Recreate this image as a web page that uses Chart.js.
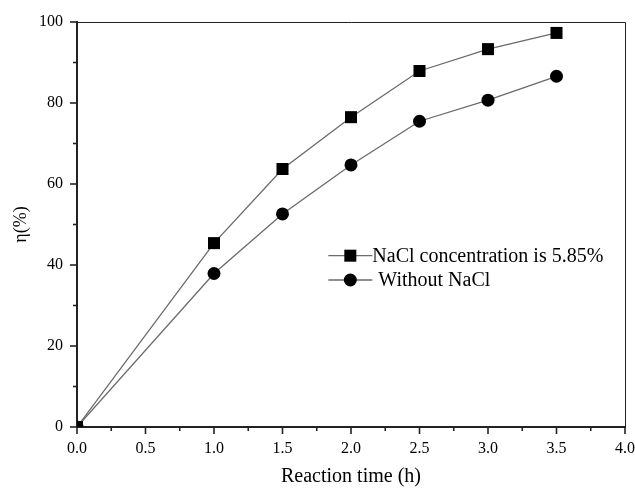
<!DOCTYPE html>
<html>
<head>
<meta charset="utf-8">
<script src="https://cdn.jsdelivr.net/npm/chart.js@4.4.1/dist/chart.umd.min.js"></script>
<style>
  html, body { margin: 0; padding: 0; background: #ffffff; }
  #wrap { width: 635px; height: 489px; position: relative; }
</style>
</head>
<body>
<div id="wrap"><canvas id="c" width="635" height="489"></canvas></div>
<script>
// ---- data ----
const reactionTime = [0, 1.0, 1.5, 2.0, 2.5, 3.0, 3.5];
const withNaCl     = [0, 45.4, 63.7, 76.5, 87.9, 93.3, 97.3];
const withoutNaCl  = [0, 37.9, 52.6, 64.7, 75.5, 80.7, 86.6];
const seriesLabels = ['NaCl concentration is 5.85%', 'Without NaCl'];
const xTitle = 'Reaction time (h)';
const yTitle = 'η(%)';

const serif = '"Liberation Serif", "Times New Roman", serif';
const toPts = (xs, ys) => xs.map((x, i) => ({ x: x, y: ys[i] }));

const isMajorX = v => Math.abs(v * 2 - Math.round(v * 2)) < 1e-9;
const isMajorY = v => Math.abs(v / 20 - Math.round(v / 20)) < 1e-9;

const framePlugin = {
  id: 'frameTicks',
  afterDatasetsDraw(chart) {
    const ctx = chart.ctx;
    const a = chart.chartArea;
    ctx.save();
    // top and right thin frame
    ctx.strokeStyle = '#222';
    ctx.lineWidth = 1;
    ctx.beginPath();
    ctx.moveTo(a.left, a.top + 0.5);
    ctx.lineTo(a.right + 0.5, a.top + 0.5);
    ctx.lineTo(a.right + 0.5, a.bottom);
    ctx.stroke();
    // tick marks (major longer, minor shorter)
    ctx.lineWidth = 1.6;
    const xs = chart.scales.x, ys = chart.scales.y;
    xs.ticks.forEach(t => {
      const p = xs.getPixelForValue(t.value);
      const len = isMajorX(t.value) ? 7 : 4;
      ctx.beginPath();
      ctx.moveTo(p, a.bottom);
      ctx.lineTo(p, a.bottom + len);
      ctx.stroke();
    });
    ys.ticks.forEach(t => {
      const p = ys.getPixelForValue(t.value);
      const len = isMajorY(t.value) ? 7 : 4;
      ctx.beginPath();
      ctx.moveTo(a.left, p);
      ctx.lineTo(a.left - len, p);
      ctx.stroke();
    });
    // legend inside plot
    const lx = xs.getPixelForValue(1.995);
    const rowY = [ys.getPixelForValue(42.3), ys.getPixelForValue(36.3)];
    const textDx = [22, 28];
    chart.data.datasets.forEach((ds, i) => {
      const y = rowY[i];
      ctx.strokeStyle = ds.borderColor;
      ctx.lineWidth = ds.borderWidth;
      ctx.beginPath();
      ctx.moveTo(lx - 22, y);
      ctx.lineTo(lx + 22, y);
      ctx.stroke();
      ctx.fillStyle = '#000';
      if (ds.pointStyle === 'rect') {
        const s = 6;
        ctx.fillRect(lx - s, y - s, 2 * s, 2 * s);
      } else {
        ctx.beginPath();
        ctx.arc(lx, y, 6.5, 0, Math.PI * 2);
        ctx.fill();
      }
      ctx.font = '20px ' + serif;
      ctx.textBaseline = 'middle';
      ctx.textAlign = 'left';
      ctx.fillText(ds.label, lx + textDx[i], y + 1);
    });
    ctx.restore();
  }
};

new Chart(document.getElementById('c'), {
  type: 'line',
  data: {
    datasets: [
      {
        label: seriesLabels[0],
        data: toPts(reactionTime, withNaCl),
        borderColor: '#6a6a6a',
        borderWidth: 1.3,
        pointStyle: 'rect',
        pointRadius: 8.5,
        pointHoverRadius: 8.5,
        pointBackgroundColor: '#000',
        pointBorderColor: '#000',
        pointBorderWidth: 0,
        tension: 0
      },
      {
        label: seriesLabels[1],
        data: toPts(reactionTime, withoutNaCl),
        borderColor: '#6a6a6a',
        borderWidth: 1.3,
        pointStyle: 'circle',
        pointRadius: 6.5,
        pointHoverRadius: 6.5,
        pointBackgroundColor: '#000',
        pointBorderColor: '#000',
        pointBorderWidth: 0,
        tension: 0
      }
    ]
  },
  options: {
    responsive: false,
    animation: false,
    events: [],
    layout: { padding: { left: 10, right: 10, top: 22, bottom: 0 } },
    plugins: { legend: { display: false }, tooltip: { enabled: false } },
    scales: {
      x: {
        type: 'linear',
        min: 0, max: 4,
        grid: { display: false, drawTicks: false },
        border: { display: true, color: '#222', width: 2 },
        ticks: {
          stepSize: 0.25,
          autoSkip: false,
          maxRotation: 0,
          padding: 12,
          color: '#000',
          font: { family: serif, size: 16 },
          callback: v => isMajorX(v) ? v.toFixed(1) : ''
        },
        title: {
          display: true, text: xTitle, color: '#000',
          font: { family: serif, size: 20 }, padding: 0
        },
        afterFit(s) { s.height = 62; s.paddingLeft = 0; s.paddingRight = 0; }
      },
      y: {
        type: 'linear',
        min: 0, max: 100,
        grid: { display: false, drawTicks: false },
        border: { display: true, color: '#222', width: 2 },
        ticks: {
          stepSize: 10,
          autoSkip: false,
          padding: 14,
          color: '#000',
          font: { family: serif, size: 16 },
          callback: v => isMajorY(v) ? String(v) : ''
        },
        title: {
          display: true, text: yTitle, color: '#000',
          font: { family: serif, size: 18 }, padding: 0
        },
        afterFit(s) { s.width = 67; s.paddingTop = 0; s.paddingBottom = 0; }
      }
    }
  },
  plugins: [framePlugin]
});
</script>
</body>
</html>
